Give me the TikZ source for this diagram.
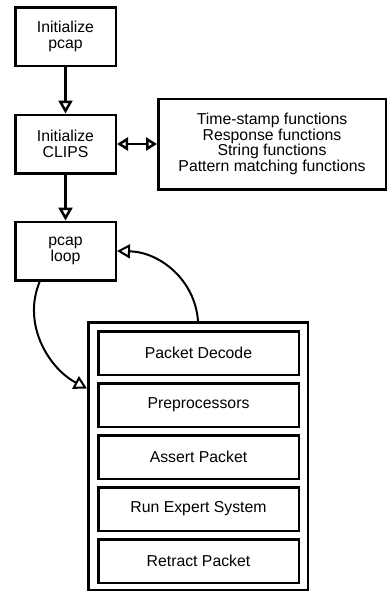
\documentclass[tikz,border=0pt]{standalone}
\usepackage{fontspec}
\setmainfont{Liberation Sans}
\usetikzlibrary{arrows.meta,positioning,calc}

\begin{document}
\begin{tikzpicture}[x=1pt,y=1pt,>={Triangle[open,length=13pt,width=14pt]}]
			\useasboundingbox (0,0) rectangle (389,-592);
			\begin{scope}[every node/.style={draw,line width=2.5pt,align=center,inner sep=0pt,font=\fontsize{15.8}{15.6}\selectfont}]
				\node[minimum width=100.5pt,minimum height=58.5pt] (pcap) at (65.5,-36.5) {Initialize\\pcap};
				\node[minimum width=100.5pt,minimum height=58.5pt] (clips) at (65.5,-144) {Initialize\\CLIPS};
				\node[minimum width=100.5pt,minimum height=58.5pt] (loop) at (65.5,-251) {pcap\\loop};
				\node[minimum width=227.5pt,minimum height=90.5pt] (funcs) at (272,-144) {Time-stamp functions\\Response functions\\String functions\\Pattern matching functions};
				\node[minimum width=219.5pt,minimum height=267.5pt] (frame) at (198,-456) {};
			\end{scope}
			
			\begin{scope}[every node/.style={draw,line width=2.5pt,minimum width=200.5pt,minimum height=43.5pt,inner sep=0pt,font=\fontsize{15.8}{16}\selectfont}]
				\node (decode) at (198.5,-353) {Packet Decode};
				\node[below=6pt of decode] (prep) {Preprocessors};
				\node[below=6pt of prep] (assert) {Assert Packet};
				\node[below=6pt of assert] (expert) {Run Expert System};
				\node[below=6pt of expert] (retract) {Retract Packet};
			\end{scope}
			
			\begin{scope}[every edge/.style={draw=black,line width=2.5pt}]
				\path [->] (pcap) edge (clips);
				\path [->] (clips) edge (loop);
				\path [{Triangle[open,length=11pt,width=13pt]}-{Triangle[open,length=11pt,width=13pt]}] (clips) edge (funcs);
			\end{scope}
			
			% loop into the packet stages and back
			\draw [->,line width=2pt] ($(loop.south west)!0.25!(loop.south east)$) .. controls +(-18,-43) and +(-38,20) .. ($(frame.north west)!0.25!(frame.south west)$);
			\draw [->,line width=2pt] (frame.north) .. controls +(-3,41) and +(43,-1) .. (loop.east);
		\end{tikzpicture}
\end{document}
